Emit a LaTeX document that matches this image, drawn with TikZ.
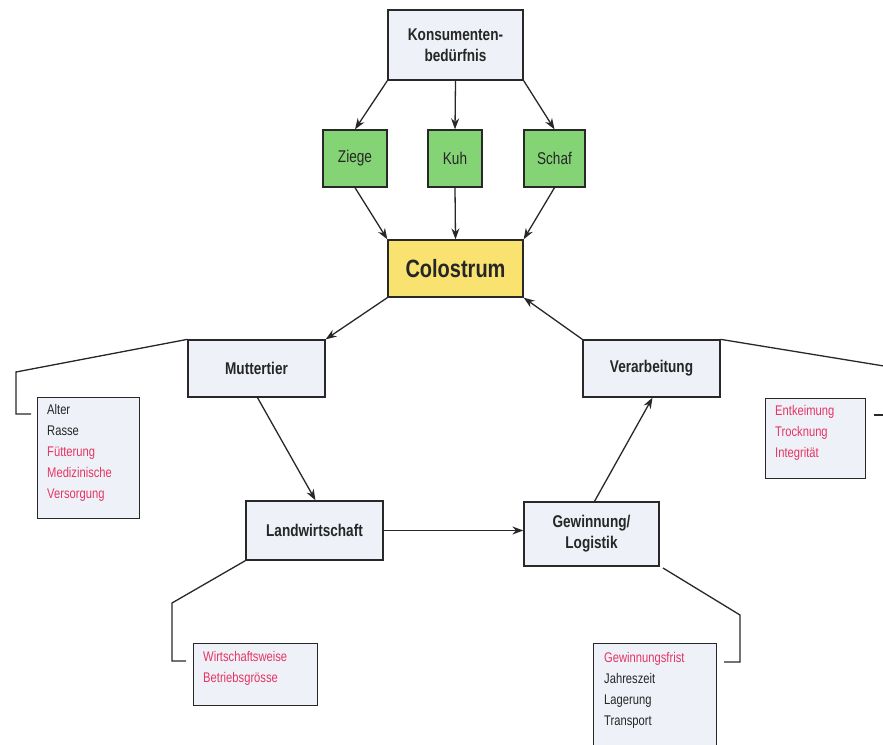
\documentclass[tikz,border=0pt]{standalone}
\usepackage{fontspec}
\setmainfont{Liberation Sans}[FakeStretch=0.8]
\usetikzlibrary{arrows.meta}
\definecolor{boxfill}{RGB}{238,242,248}
\definecolor{greenfill}{RGB}{132,212,118}
\definecolor{yellowfill}{RGB}{250,226,112}
\definecolor{pinktext}{RGB}{230,52,100}
\definecolor{linecol}{RGB}{40,40,40}
\tikzset{
  box/.style={draw=linecol, line width=1.3pt, fill=boxfill, inner sep=0pt, align=center, text=black!85},
  mainlabel/.style={box, font=\fontsize{17}{21}\selectfont\bfseries},
  animal/.style={box, fill=greenfill, font=\fontsize{17}{21}\selectfont},
  listbox/.style={box, align=left},
  listtext/.style={anchor=north west, align=left, font=\fontsize{14}{21}\selectfont, inner sep=0pt, text=black!85},
  conn/.style={draw=linecol, line width=1.3pt},
  arr/.style={conn, -{Stealth[length=11pt,width=8pt]}},
}
\begin{document}
\begin{tikzpicture}[x=1pt,y=-1pt]
\useasboundingbox (0,0) rectangle (883,744);
\fill[white] (0,0) rectangle (883,744);

\node[mainlabel, minimum width=135pt, minimum height=70pt] (kons) at (455.5,45) {Konsumenten-\\bedürfnis};
\node[animal, minimum width=64pt, minimum height=57pt] (ziege) at (355,158.5) {Ziege};
\node[animal, minimum width=54pt, minimum height=57pt] (kuh) at (455,158.5) {Kuh};
\node[animal, minimum width=61pt, minimum height=57pt] (schaf) at (554.5,158.5) {Schaf};
\node[box, fill=yellowfill, minimum width=135pt, minimum height=57pt, font=\fontsize{25}{30}\selectfont\bfseries] (colo) at (455.5,268.5) {Colostrum};
\node[mainlabel, minimum width=137pt, minimum height=57pt] (mutter) at (256.5,368.5) {Muttertier};
\node[mainlabel, minimum width=137pt, minimum height=57pt] (verarb) at (651.5,368.5) {Verarbeitung};
\node[mainlabel, minimum width=137pt, minimum height=59pt] (landw) at (314.5,530.5) {Landwirtschaft};
\node[mainlabel, minimum width=135pt, minimum height=64pt] (gew) at (591.5,534) {Gewinnung/\\Logistik};

\node[listbox, minimum width=102pt, minimum height=121pt, anchor=north west] (llist) at (37,397) {};
\node[listtext] (ltext) at (47,404) {Alter\\Rasse\\\textcolor{pinktext}{Fütterung}\\\textcolor{pinktext}{Medizinische}\\\textcolor{pinktext}{Versorgung}};

\node[listbox, minimum width=100pt, minimum height=80pt, anchor=north west] (rlist) at (765,398) {};
\node[listtext, text=pinktext] (rtext) at (775,405) {Entkeimung\\Trocknung\\Integrität};

\node[listbox, minimum width=124pt, minimum height=62pt, anchor=north west] (wlist) at (193,643) {};
\node[listtext, text=pinktext] (wtext) at (203,651) {Wirtschaftsweise\\Betriebsgrösse};

\node[listbox, minimum width=123pt, minimum height=110pt, anchor=north west] (glist) at (593,643) {};
\node[listtext] (gtext) at (604,652) {\textcolor{pinktext}{Gewinnungsfrist}\\Jahreszeit\\Lagerung\\Transport};

% arrows top
\draw[arr] (kons.south west) -- (ziege.north);
\draw[arr] (kons.south) -- (kuh.north);
\draw[arr] (kons.south east) -- (schaf.north);
\draw[arr] (ziege.south) -- (colo.north west);
\draw[arr] (kuh.south) -- (colo.north);
\draw[arr] (schaf.south) -- (colo.north east);
\draw[arr] (colo.south west) -- (mutter.north east);
\draw[arr] (verarb.north west) -- (colo.south east);
\draw[arr] ([xshift=1pt]mutter.south) -- ([xshift=1pt]landw.north);
\draw[arr] (landw.east) -- (landw.east -| gew.west);
\draw[arr] ([xshift=3pt]gew.north) -- ([xshift=1pt]verarb.south);

% brackets
\coordinate (lb1) at (16,372);
\coordinate (lb2) at (16,414);
\coordinate (lb3) at (31,414);
\draw[conn] (mutter.north west) -- (lb1) -- (lb2) -- (lb3);

\coordinate (rb1) at (890,367);
\draw[conn] (verarb.north east) -- (rb1);
\coordinate (rs1) at (874,415);
\coordinate (rs2) at (890,415);
\draw[conn] (rs1) -- (rs2);

\coordinate (wb1) at (172,603);
\coordinate (wb2) at (172,661);
\coordinate (wb3) at (186,661);
\draw[conn] (landw.south west) -- (wb1) -- (wb2) -- (wb3);

\coordinate (gb0) at (663,568);
\coordinate (gb1) at (740,615);
\coordinate (gb2) at (740,662);
\coordinate (gb3) at (724,662);
\draw[conn] (gb0) -- (gb1) -- (gb2) -- (gb3);
\end{tikzpicture}
\end{document}
